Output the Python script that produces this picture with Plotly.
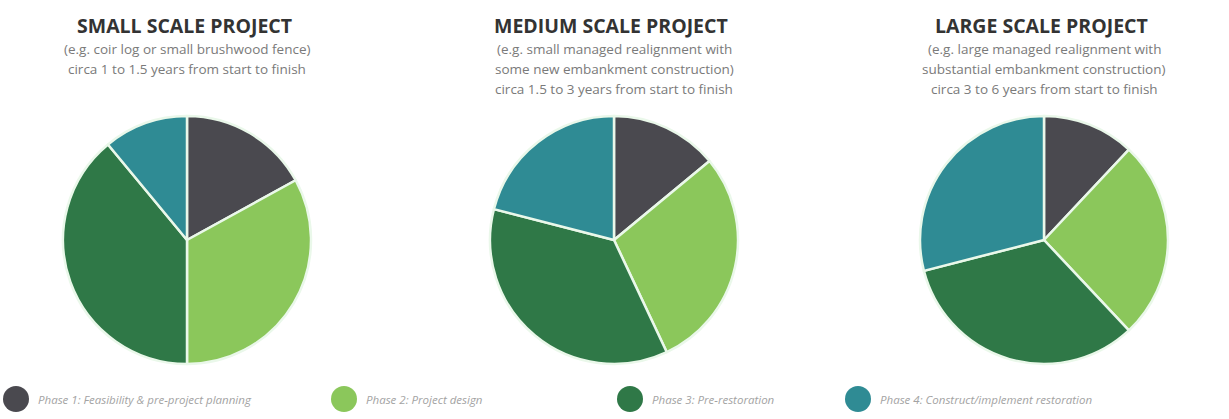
import plotly.graph_objects as go

W, H = 1229, 419

phases = ["Phase 1: Feasibility & pre-project planning", "Phase 2: Project design",
          "Phase 3: Pre-restoration", "Phase 4: Construct/implement restoration"]
small_vals = [17, 33, 39, 11]
medium_vals = [14, 29, 36, 21]
large_vals = [12, 26, 33, 29]
titles = ["SMALL SCALE PROJECT", "MEDIUM SCALE PROJECT", "LARGE SCALE PROJECT"]
subtitles = [
    ["(e.g. coir log or small brushwood fence)", "circa 1 to 1.5 years from start to finish"],
    ["(e.g. small managed realignment with", "some new embankment construction)",
     "circa 1.5 to 3 years from start to finish"],
    ["(e.g. large managed realignment with", "substantial embankment construction)",
     "circa 3 to 6 years from start to finish"],
]
colors = ["#4a494f", "#8bc75b", "#2f7847", "#2f8b94"]

# layout geometry (pixels)
centers_x = [187, 614, 1044]
center_y = 240
radius = 124

def px_x(x):
    return x / W

def px_y(y):
    return 1 - y / H

fig = go.Figure()
for vals, cx in zip([small_vals, medium_vals, large_vals], centers_x):
    fig.add_trace(go.Pie(
        values=vals, labels=phases, sort=False, direction="clockwise", rotation=0,
        marker=dict(colors=colors, line=dict(color="#eaf8ea", width=2.5)),
        textinfo="none", showlegend=False,
        domain=dict(x=[px_x(cx - radius), px_x(cx + radius)],
                    y=[px_y(center_y + radius), px_y(center_y - radius)]),
    ))

annotations = []
for title, subs, cx in zip(titles, subtitles, centers_x):
    annotations.append(dict(text=title, x=px_x(cx - 3), y=px_y(25), xref="paper", yref="paper",
                            showarrow=False, xanchor="center", yanchor="middle",
                            font=dict(family="Open Sans", size=19.5, color="#333333", weight="bold")))
    for i, s in enumerate(subs):
        annotations.append(dict(text=s, x=px_x(cx), y=px_y(49 + 20 * i), xref="paper", yref="paper",
                                showarrow=False, xanchor="center", yanchor="middle",
                                font=dict(family="Open Sans", size=13.5, color="#7a7a7a")))

legend_x = [16, 344, 630, 858]
legend_y = 399
shapes = []
for lx, ph, c in zip(legend_x, phases, colors):
    shapes.append(dict(type="circle", xref="paper", yref="paper",
                       x0=px_x(lx - 13), x1=px_x(lx + 13), y0=px_y(legend_y + 13), y1=px_y(legend_y - 13),
                       fillcolor=c, line=dict(width=0)))
    annotations.append(dict(text=ph, x=px_x(lx + 20), y=px_y(legend_y), xref="paper", yref="paper",
                            showarrow=False, xanchor="left", yanchor="middle",
                            font=dict(family="Open Sans", size=11.5, color="#a3a3a3", style="italic")))

fig.update_layout(width=W, height=H, margin=dict(l=0, r=0, t=0, b=0),
                  paper_bgcolor="white", plot_bgcolor="white",
                  annotations=annotations, shapes=shapes)
fig.write_html("out.html")
